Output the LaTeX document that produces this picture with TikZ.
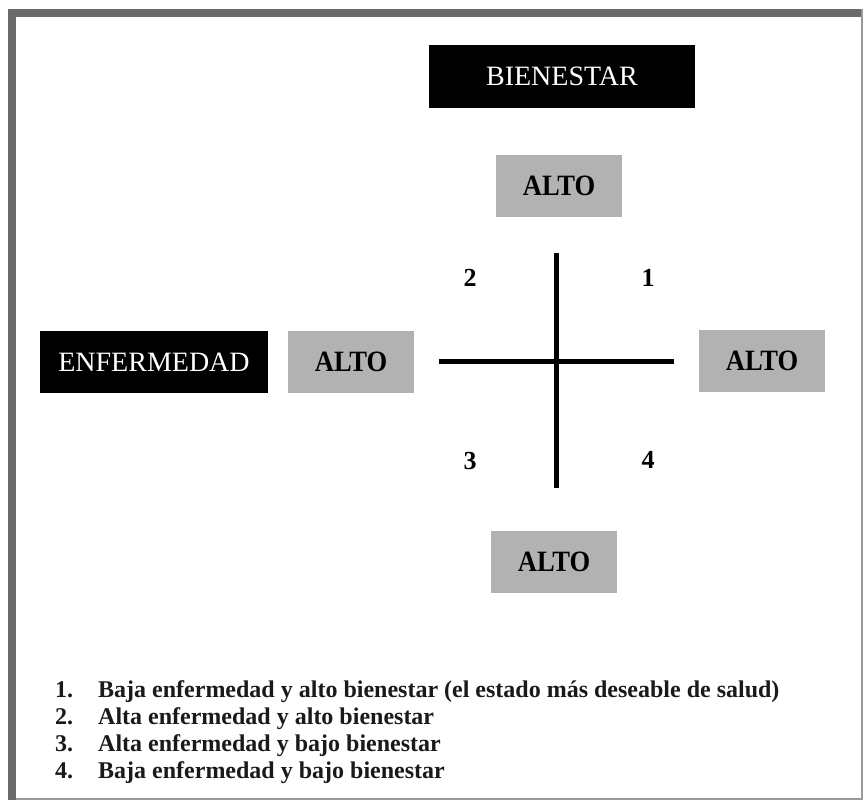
\documentclass[tikz,border=0pt]{standalone}
\usepackage{fontspec}
\setmainfont{Liberation Serif}
\newfontfamily\altofont[FakeStretch=0.9]{Liberation Serif Bold}
\newfontfamily\legfont{Liberation Serif Bold}
\definecolor{framegray}{HTML}{6A6A6A}
\definecolor{thingray}{HTML}{9A9A9A}
\definecolor{boxgray}{HTML}{B2B2B2}
\definecolor{legtext}{HTML}{1A1A1A}
\begin{document}
\begin{tikzpicture}[x=1pt,y=-1pt,
  blackbox/.style={fill=black,text=white,inner sep=0pt,anchor=center,
    font=\fontsize{28}{30}\selectfont,text depth=0pt},
  graybox/.style={fill=boxgray,text=black,inner sep=0pt,anchor=center,
    minimum width=126pt,minimum height=62pt,font=\altofont\fontsize{29.5}{31}\selectfont,text depth=0pt},
  quadnum/.style={inner sep=0pt,anchor=base,font=\legfont\fontsize{26}{28}\selectfont},
  legnum/.style={inner sep=0pt,anchor=base west,text=legtext,font=\legfont\fontsize{24}{26}\selectfont},
  legitem/.style={inner sep=0pt,anchor=base west,text=legtext,font=\legfont\fontsize{24}{26}\selectfont},
  axis/.style={line width=5pt,black}]
\useasboundingbox (0,0) rectangle (863,800);
\fill[white] (0,0) rectangle (863,800);
% frame
\fill[framegray] (8,9) rectangle (862,17);
\fill[framegray] (8,9) rectangle (16,800);
\draw[thingray,line width=1.5pt] (862,9) -- (862,799) -- (16,799);
% boxes
\node[blackbox,minimum width=266pt,minimum height=63pt] (bien) at (562,76.5) {BIENESTAR};
\node[blackbox,minimum width=228pt,minimum height=62pt] (enf) at (154,362) {ENFERMEDAD};
\node[graybox] (top) at (559,185.5) {ALTO};
\node[graybox] (left) at (351,362) {ALTO};
\node[graybox] (right) at (762,360.5) {ALTO};
\node[graybox] (bottom) at (554,561.5) {ALTO};
% cross
\coordinate (vt) at (556,253);
\coordinate (vb) at (556,488);
\coordinate (hl) at (439,361);
\coordinate (hr) at (674,361);
\draw[axis] (vt) -- (vb);
\draw[axis] (hl) -- (hr);
% quadrant numbers
\node[quadnum] (q2) at (470,286) {2};
\node[quadnum] (q1) at (648,286) {1};
\node[quadnum] (q3) at (470,469) {3};
\node[quadnum] (q4) at (648,468) {4};
% legend
\node[legnum] (n1) at (55,697) {1.};
\node[legitem] (t1) at (98,697) {Baja enfermedad y alto bienestar (el estado más deseable de salud)};
\node[legnum] (n2) at (55,724) {2.};
\node[legitem] (t2) at (98,724) {Alta enfermedad y alto bienestar};
\node[legnum] (n3) at (55,751) {3.};
\node[legitem] (t3) at (98,751) {Alta enfermedad y bajo bienestar};
\node[legnum] (n4) at (55,778) {4.};
\node[legitem] (t4) at (98,778) {Baja enfermedad y bajo bienestar};
\end{tikzpicture}
\end{document}
